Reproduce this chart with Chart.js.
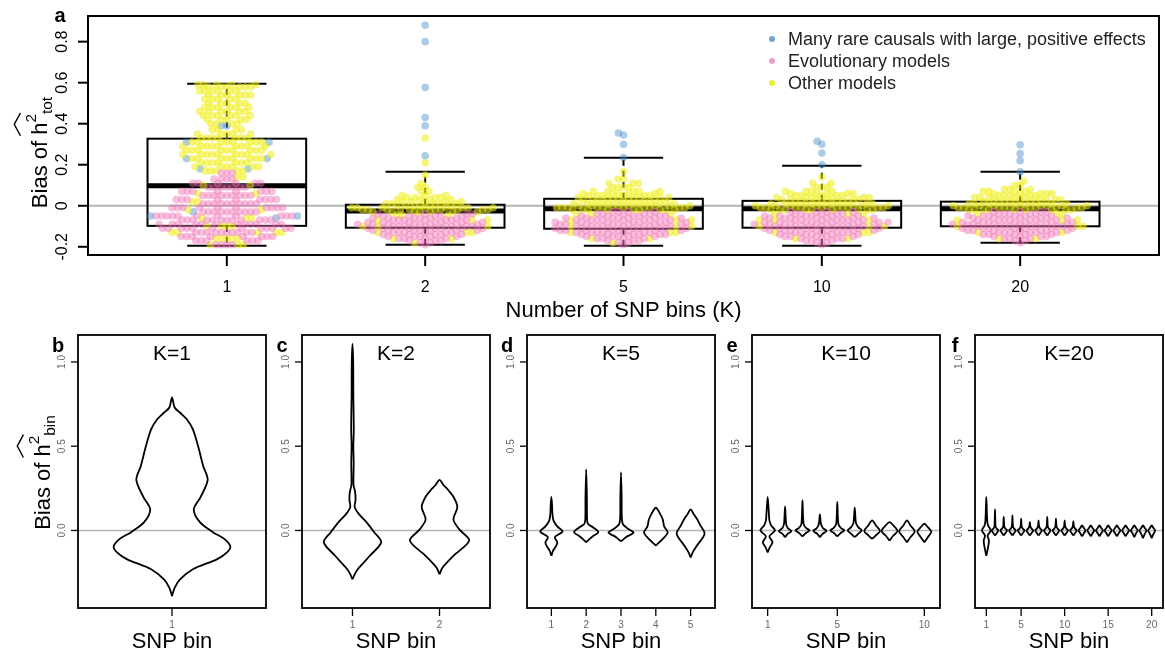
<!DOCTYPE html>
<html>
<head>
<meta charset="utf-8">
<title>Bias of heritability estimates by number of SNP bins</title>
<script src="https://cdn.jsdelivr.net/npm/chart.js@4.4.1/dist/chart.umd.min.js"></script>
<style>
    body { margin: 0; background: #fff; }
    #wrap { position: relative; width: 1165px; height: 656px; overflow: hidden; }
    canvas { position: absolute; }
</style>
</head>
<body>
<div id="wrap">
    <canvas id="chart-a" width="1165" height="330" style="left:0;top:0"></canvas>
    <canvas id="chart-b" width="270" height="336" style="left:0;top:320px"></canvas>
    <canvas id="chart-c" width="222" height="336" style="left:272px;top:320px"></canvas>
    <canvas id="chart-d" width="222" height="336" style="left:497px;top:320px"></canvas>
    <canvas id="chart-e" width="222" height="336" style="left:722px;top:320px"></canvas>
    <canvas id="chart-f" width="222" height="336" style="left:945px;top:320px"></canvas>
</div>

<script>
    const FONT = "'Liberation Sans', Arial, sans-serif";

    // ---- panel a: box plots + swarm of simulation results ----
    const binCounts = ['1', '2', '5', '10', '20'];
    const boxQ1 = [-0.098, -0.107, -0.112, -0.107, -0.100];
    const boxMedian = [0.098, -0.025, -0.015, -0.015, -0.015];
    const boxQ3 = [0.327, 0.005, 0.034, 0.024, 0.020];
    const whiskerLow = [-0.195, -0.190, -0.195, -0.195, -0.180];
    const whiskerHigh = [0.595, 0.166, 0.234, 0.195, 0.166];

    // [value, how many points at that value]
    const evoK1 = [[0.16, 3], [0.13, 4], [0.11, 6], [0.09, 7], [0.07, 8], [0.05, 9], [0.03, 9], [0.01, 10], [-0.01, 10], [-0.03, 10], [-0.05, 11], [-0.07, 12], [-0.09, 12], [-0.11, 12], [-0.13, 10], [-0.15, 8], [-0.17, 6], [-0.19, 4]];
    const otherK1 = [[0.59, 5], [0.58, 6], [0.56, 6], [0.54, 6], [0.52, 5], [0.50, 5], [0.48, 6], [0.46, 6], [0.44, 6], [0.42, 5], [0.40, 4], [0.37, 4], [0.35, 5], [0.33, 7], [0.31, 8], [0.29, 9], [0.27, 9], [0.25, 9], [0.23, 8], [0.21, 7], [0.19, 6], [0.17, 5], [0.14, 2], [0.10, 2], [0.06, 2], [0.02, 2], [-0.02, 2], [-0.06, 3], [-0.10, 4], [-0.13, 5], [-0.16, 5], [-0.19, 3]];
    const rareK1 = [[0.39, 2], [0.31, 2], [0.23, 2], [0.18, 2], [-0.03, 1], [-0.05, 2], [-0.06, 1]];

    const evoK2 = [[-0.04, 4], [-0.05, 5], [-0.06, 6], [-0.07, 7], [-0.08, 7], [-0.09, 8], [-0.10, 8], [-0.11, 7], [-0.12, 7], [-0.13, 6], [-0.14, 5], [-0.15, 5], [-0.16, 4], [-0.17, 3], [-0.18, 2], [-0.19, 1]];
    const otherK2 = [[0.33, 1], [0.21, 1], [0.15, 1], [0.11, 1], [0.09, 2], [0.07, 2], [0.05, 3], [0.04, 4], [0.03, 4], [0.02, 5], [0.01, 5], [0.0, 6], [-0.01, 8], [-0.02, 10], [-0.03, 7], [-0.045, 3], [-0.07, 3], [-0.10, 3], [-0.13, 3], [-0.16, 2], [-0.18, 1]];
    const rareK2 = [[0.88, 1], [0.80, 1], [0.577, 1], [0.43, 1], [0.39, 1], [0.244, 1]];

    const evoK5 = [[-0.03, 4], [-0.04, 5], [-0.05, 6], [-0.06, 7], [-0.07, 8], [-0.08, 8], [-0.09, 8], [-0.10, 8], [-0.11, 8], [-0.12, 8], [-0.13, 7], [-0.14, 6], [-0.15, 5], [-0.16, 4], [-0.17, 3], [-0.18, 2], [-0.19, 1]];
    const otherK5 = [[0.167, 1], [0.13, 2], [0.11, 3], [0.09, 4], [0.07, 5], [0.06, 5], [0.05, 6], [0.04, 6], [0.03, 6], [0.02, 6], [0.01, 7], [0.0, 8], [-0.01, 10], [-0.02, 9], [-0.04, 3], [-0.07, 3], [-0.10, 3], [-0.13, 3], [-0.16, 2], [-0.18, 1]];
    const rareK5 = [[0.355, 1], [0.345, 1], [0.30, 1], [0.235, 1]];

    const evoK10 = [[-0.03, 4], [-0.04, 5], [-0.05, 6], [-0.06, 7], [-0.07, 7], [-0.08, 8], [-0.09, 8], [-0.10, 8], [-0.11, 7], [-0.12, 7], [-0.13, 6], [-0.14, 5], [-0.15, 5], [-0.16, 4], [-0.17, 3], [-0.18, 2], [-0.19, 1]];
    const otherK10 = [[0.14, 1], [0.11, 2], [0.09, 3], [0.07, 4], [0.06, 5], [0.05, 5], [0.04, 6], [0.03, 6], [0.02, 6], [0.01, 7], [0.0, 8], [-0.01, 10], [-0.02, 9], [-0.04, 3], [-0.07, 3], [-0.10, 3], [-0.13, 3], [-0.16, 2]];
    const rareK10 = [[0.314, 1], [0.30, 1], [0.257, 1], [0.20, 1]];

    const evoK20 = [[-0.03, 4], [-0.04, 5], [-0.05, 6], [-0.06, 6], [-0.07, 7], [-0.08, 7], [-0.09, 8], [-0.10, 8], [-0.11, 7], [-0.12, 7], [-0.13, 6], [-0.14, 5], [-0.15, 4], [-0.16, 3], [-0.17, 2], [-0.18, 1]];
    const otherK20 = [[0.12, 1], [0.10, 2], [0.08, 3], [0.07, 4], [0.06, 5], [0.05, 5], [0.04, 5], [0.03, 6], [0.02, 6], [0.01, 7], [0.0, 8], [-0.01, 10], [-0.02, 9], [-0.04, 3], [-0.07, 3], [-0.10, 3], [-0.13, 2], [-0.16, 2]];
    const rareK20 = [[0.297, 1], [0.254, 1], [0.22, 1], [0.166, 1]];

    const groups = [
        { label: 'Evolutionary models', byK: [evoK1, evoK2, evoK5, evoK10, evoK20], color: 'rgba(240,110,180,0.45)', key: '#f39cc6' },
        { label: 'Other models', byK: [otherK1, otherK2, otherK5, otherK10, otherK20], color: 'rgba(238,238,20,0.55)', key: '#eeee30' },
        { label: 'Many rare causals with large, positive effects', byK: [rareK1, rareK2, rareK5, rareK10, rareK20], color: 'rgba(70,140,200,0.45)', key: '#6fa3d2' }
    ];
    const legendOrder = [2, 0, 1];

    // ---- panels b-f: violins of per-bin bias, profile = [value, half width in bin units] ----
    const violinK1 = [
        [[-0.39, 0], [-0.34, 0.015], [-0.29, 0.046], [-0.23, 0.12], [-0.17, 0.26], [-0.13, 0.316], [-0.095, 0.335], [-0.05, 0.3], [-0.01, 0.235], [0.05, 0.16], [0.125, 0.125], [0.2, 0.165], [0.3, 0.205], [0.38, 0.18], [0.5, 0.15], [0.6, 0.12], [0.66, 0.085], [0.70, 0.045], [0.73, 0.015], [0.79, 0]]
    ];
    const violinK2 = [
        [[-0.29, 0], [-0.26, 0.025], [-0.23, 0.06], [-0.19, 0.13], [-0.15, 0.2], [-0.07, 0.33], [-0.01, 0.25], [0.05, 0.16], [0.1, 0.07], [0.14, 0.025], [0.18, 0.035], [0.23, 0.03], [0.27, 0.012], [0.4, 0.014], [0.5, 0.01], [0.6, 0.015], [0.8, 0.01], [1.0, 0.008], [1.107, 0]],
        [[-0.26, 0], [-0.22, 0.035], [-0.15, 0.16], [-0.06, 0.34], [0.005, 0.23], [0.065, 0.16], [0.14, 0.205], [0.2, 0.16], [0.24, 0.1], [0.27, 0.045], [0.3, 0]]
    ];
    const violinK5 = [
        [[-0.15, 0], [-0.12, 0.05], [-0.09, 0.14], [-0.07, 0.17], [-0.04, 0.1], [-0.006, 0.32], [0.024, 0.17], [0.06, 0.06], [0.1, 0.03], [0.15, 0.02], [0.2, 0]],
        [[-0.07, 0], [-0.05, 0.1], [-0.03, 0.22], [-0.01, 0.35], [0.018, 0.2], [0.04, 0.05], [0.07, 0.025], [0.2, 0.02], [0.363, 0]],
        [[-0.065, 0], [-0.04, 0.14], [-0.012, 0.36], [0.01, 0.2], [0.035, 0.06], [0.07, 0.025], [0.2, 0.018], [0.345, 0]],
        [[-0.09, 0], [-0.07, 0.1], [-0.05, 0.2], [-0.012, 0.34], [0.024, 0.24], [0.065, 0.2], [0.1, 0.12], [0.135, 0]],
        [[-0.16, 0], [-0.13, 0.06], [-0.09, 0.18], [-0.02, 0.4], [0.03, 0.28], [0.07, 0.18], [0.1, 0.08], [0.125, 0]]
    ];
    const violinK10 = [
        [[-0.13, 0], [-0.1, 0.12], [-0.07, 0.28], [-0.035, 0.1], [0, 0.42], [0.03, 0.2], [0.06, 0.1], [0.1, 0.07], [0.2, 0]],
        [[-0.04, 0], [-0.02, 0.15], [-0.005, 0.36], [0.015, 0.15], [0.04, 0.06], [0.143, 0]],
        [[-0.035, 0], [-0.015, 0.2], [0, 0.4], [0.015, 0.2], [0.04, 0.06], [0.18, 0]],
        [[-0.04, 0], [-0.02, 0.15], [-0.003, 0.38], [0.015, 0.17], [0.04, 0.06], [0.095, 0]],
        [[-0.035, 0], [-0.015, 0.2], [0, 0.4], [0.015, 0.2], [0.04, 0.06], [0.17, 0]],
        [[-0.04, 0], [-0.02, 0.2], [0, 0.4], [0.02, 0.2], [0.045, 0.07], [0.135, 0]],
        [[-0.05, 0], [-0.03, 0.2], [-0.003, 0.45], [0.03, 0.22], [0.06, 0]],
        [[-0.06, 0], [-0.03, 0.22], [-0.003, 0.46], [0.03, 0.22], [0.05, 0]],
        [[-0.07, 0], [-0.04, 0.2], [-0.005, 0.45], [0.03, 0.2], [0.06, 0]],
        [[-0.07, 0], [-0.04, 0.2], [-0.008, 0.4], [0.02, 0.2], [0.04, 0]]
    ];
    const violinK20 = [
        [[-0.15, 0], [-0.1, 0.2], [-0.06, 0.3], [-0.03, 0.15], [0, 0.5], [0.03, 0.2], [0.06, 0.1], [0.2, 0]],
        [[-0.03, 0], [-0.015, 0.2], [0, 0.38], [0.012, 0.18], [0.025, 0.06], [0.125, 0]],
        [[-0.03, 0], [-0.015, 0.2], [0, 0.38], [0.012, 0.18], [0.025, 0.06], [0.08, 0]],
        [[-0.03, 0], [-0.015, 0.2], [0, 0.38], [0.012, 0.18], [0.025, 0.06], [0.09, 0]],
        [[-0.03, 0], [-0.015, 0.2], [0, 0.38], [0.012, 0.18], [0.025, 0.06], [0.07, 0]],
        [[-0.03, 0], [-0.015, 0.2], [0, 0.38], [0.012, 0.18], [0.025, 0.06], [0.05, 0]],
        [[-0.03, 0], [-0.015, 0.2], [0, 0.38], [0.012, 0.18], [0.025, 0.06], [0.06, 0]],
        [[-0.03, 0], [-0.015, 0.2], [0, 0.38], [0.012, 0.18], [0.025, 0.06], [0.08, 0]],
        [[-0.03, 0], [-0.015, 0.2], [0, 0.38], [0.012, 0.18], [0.025, 0.06], [0.07, 0]],
        [[-0.03, 0], [-0.015, 0.2], [0, 0.38], [0.012, 0.18], [0.025, 0.06], [0.06, 0]],
        [[-0.03, 0], [-0.015, 0.2], [0, 0.38], [0.012, 0.18], [0.025, 0.06], [0.055, 0]],
        [[-0.035, 0], [-0.015, 0.22], [0, 0.4], [0.015, 0.2], [0.03, 0]],
        [[-0.035, 0], [-0.015, 0.22], [0, 0.4], [0.015, 0.2], [0.03, 0]],
        [[-0.035, 0], [-0.015, 0.22], [0, 0.4], [0.015, 0.2], [0.03, 0]],
        [[-0.035, 0], [-0.015, 0.22], [0, 0.4], [0.015, 0.2], [0.03, 0]],
        [[-0.035, 0], [-0.015, 0.22], [0, 0.4], [0.015, 0.2], [0.03, 0]],
        [[-0.035, 0], [-0.015, 0.22], [0, 0.4], [0.015, 0.2], [0.03, 0]],
        [[-0.04, 0], [-0.015, 0.22], [0, 0.4], [0.015, 0.2], [0.03, 0]],
        [[-0.045, 0], [-0.018, 0.22], [0, 0.4], [0.015, 0.2], [0.03, 0]],
        [[-0.045, 0], [-0.018, 0.22], [0, 0.4], [0.015, 0.2], [0.03, 0]]
    ];
    const violinTicks = [[1], [1, 2], [1, 2, 3, 4, 5], [1, 5, 10], [1, 5, 10, 15, 20]];
    const violinYTicks = [0, 0.5, 1.0];
    const topYTicks = [-0.2, 0, 0.2, 0.4, 0.6, 0.8];

    // draw "Bias of h^2_sub" with a hat, rotated along the y axis
    function drawHatTitle(ctx, cx, cy, sub, size) {
        const small = size * 0.7;
        ctx.save();
        ctx.translate(cx, cy);
        ctx.rotate(-Math.PI / 2);
        ctx.fillStyle = '#000';
        ctx.strokeStyle = '#000';
        ctx.textAlign = 'left';
        ctx.textBaseline = 'alphabetic';
        ctx.font = `${size}px ${FONT}`;
        const w1 = ctx.measureText('Bias of ').width;
        const wh = ctx.measureText('h').width;
        ctx.font = `${small}px ${FONT}`;
        const w2 = ctx.measureText('2').width;
        const ws = ctx.measureText(sub).width;
        const x0 = -(w1 + wh + w2 + ws) / 2;
        const base = size * 0.33;
        ctx.font = `${size}px ${FONT}`;
        ctx.fillText('Bias of ', x0, base);
        ctx.fillText('h', x0 + w1, base);
        ctx.font = `${small}px ${FONT}`;
        ctx.fillText('2', x0 + w1 + wh, base - size * 0.5);
        ctx.fillText(sub, x0 + w1 + wh + w2, base + size * 0.2);
        const hx0 = x0 + w1 - 1, hx1 = x0 + w1 + wh + w2 + 1;
        ctx.lineWidth = 1.4;
        ctx.beginPath();
        ctx.moveTo(hx0, base - size * 1.22);
        ctx.lineTo((hx0 + hx1) / 2, base - size * 1.5);
        ctx.lineTo(hx1, base - size * 1.22);
        ctx.stroke();
        ctx.restore();
    }

    function rotatedText(ctx, text, x, y) {
        ctx.save();
        ctx.translate(x, y);
        ctx.rotate(-Math.PI / 2);
        ctx.textAlign = 'center';
        ctx.textBaseline = 'alphabetic';
        ctx.fillText(text, 0, 0);
        ctx.restore();
    }

    const panelA = {
        id: 'panelA',
        beforeDatasetsDraw(chart) {
            const { ctx, chartArea: a, scales: { x, y } } = chart;
            ctx.save();
            const y0 = y.getPixelForValue(0);
            ctx.strokeStyle = '#b5b5b5';
            ctx.lineWidth = 2;
            ctx.beginPath();
            ctx.moveTo(a.left, y0);
            ctx.lineTo(a.right, y0);
            ctx.stroke();

            ctx.strokeStyle = '#000';
            binCounts.forEach((_, i) => {
                const xc = x.getPixelForValue(i);
                const bl = x.getPixelForValue(i - 0.4), br = x.getPixelForValue(i + 0.4);
                const cl = x.getPixelForValue(i - 0.2), cr = x.getPixelForValue(i + 0.2);
                const yq1 = y.getPixelForValue(boxQ1[i]), yq3 = y.getPixelForValue(boxQ3[i]);
                const ymed = y.getPixelForValue(boxMedian[i]);
                const ylo = y.getPixelForValue(whiskerLow[i]), yhi = y.getPixelForValue(whiskerHigh[i]);
                ctx.lineWidth = 2;
                ctx.setLineDash([6, 5]);
                ctx.beginPath();
                ctx.moveTo(xc, yq3); ctx.lineTo(xc, yhi);
                ctx.moveTo(xc, yq1); ctx.lineTo(xc, ylo);
                ctx.stroke();
                ctx.setLineDash([]);
                ctx.beginPath();
                ctx.moveTo(cl, yhi); ctx.lineTo(cr, yhi);
                ctx.moveTo(cl, ylo); ctx.lineTo(cr, ylo);
                ctx.stroke();
                ctx.strokeRect(bl, yq3, br - bl, yq1 - yq3);
                ctx.lineWidth = 5;
                ctx.beginPath();
                ctx.moveTo(bl, ymed); ctx.lineTo(br, ymed);
                ctx.stroke();
            });
            ctx.restore();
        },
        afterDraw(chart) {
            const { ctx, chartArea: a, scales: { x, y } } = chart;
            ctx.save();
            ctx.strokeStyle = '#000';
            ctx.fillStyle = '#000';
            ctx.lineWidth = 2;
            ctx.strokeRect(a.left, a.top, a.right - a.left, a.bottom - a.top);

            // y axis
            ctx.font = `16px ${FONT}`;
            topYTicks.forEach(v => {
                const py = y.getPixelForValue(v);
                ctx.beginPath(); ctx.moveTo(a.left - 10, py); ctx.lineTo(a.left, py); ctx.stroke();
                rotatedText(ctx, v === 0 ? '0' : String(v), a.left - 21, py);
            });
            // x axis
            ctx.textAlign = 'center';
            binCounts.forEach((lab, i) => {
                const px = x.getPixelForValue(i);
                ctx.beginPath(); ctx.moveTo(px, a.bottom); ctx.lineTo(px, a.bottom + 11); ctx.stroke();
                ctx.fillText(lab, px, a.bottom + 37);
            });
            ctx.font = `22px ${FONT}`;
            ctx.fillText('Number of SNP bins (K)', (a.left + a.right) / 2, a.bottom + 62);
            drawHatTitle(ctx, 40, (a.top + a.bottom) / 2 + 17, 'tot', 22);

            ctx.font = `bold 20px ${FONT}`;
            ctx.fillText('a', a.left - 28, a.top + 6);

            // legend
            ctx.font = `18px ${FONT}`;
            ctx.textAlign = 'left';
            legendOrder.forEach((g, k) => {
                const ly = a.top + 23 + k * 22;
                ctx.fillStyle = groups[g].key;
                ctx.beginPath(); ctx.arc(a.right - 387, ly, 3, 0, Math.PI * 2); ctx.fill();
                ctx.fillStyle = '#222';
                ctx.fillText(groups[g].label, a.right - 371, ly + 6);
            });
            ctx.restore();
        }
    };

    const chartA = new Chart(document.getElementById('chart-a'), {
        type: 'scatter',
        data: {
            datasets: groups.map(g => ({
                label: g.label,
                data: [],
                backgroundColor: g.color,
                borderWidth: 0,
                pointRadius: 3.8,
                pointHoverRadius: 3.8
            }))
        },
        options: {
            responsive: false,
            animation: false,
            events: [],
            layout: { padding: { left: 88, top: 16, right: 6, bottom: 75 } },
            scales: {
                x: { type: 'linear', min: -0.7, max: 4.7, display: false },
                y: { type: 'linear', min: -0.24, max: 0.925, display: false }
            },
            plugins: { legend: { display: false }, tooltip: { enabled: false } }
        },
        plugins: [panelA]
    });

    // beeswarm layout (pixel space), then back to data units
    function layoutSwarm(chart) {
        const sx = chart.scales.x, sy = chart.scales.y;
        const pxX = sx.getPixelForValue(1) - sx.getPixelForValue(0);
        const pxY = sy.getPixelForValue(0) - sy.getPixelForValue(1);
        const d = 5.5;
        const out = groups.map(() => []);
        binCounts.forEach((_, i) => {
            const pts = [];
            groups.forEach((g, gi) => {
                g.byK[i].forEach(([v, n]) => {
                    for (let k = 0; k < n; k++) pts.push({ g: gi, v: v, py: v * pxY, px: 0 });
                });
            });
            pts.sort((p, q) => p.py - q.py);
            const placed = [];
            pts.forEach(p => {
                const near = placed.filter(q => Math.abs(q.py - p.py) < d);
                const cands = [0];
                near.forEach(q => {
                    const dx = Math.sqrt(d * d - (q.py - p.py) ** 2);
                    cands.push(q.px + dx, q.px - dx);
                });
                cands.sort((s, t) => Math.abs(s) - Math.abs(t) || s - t);
                for (const c of cands) {
                    if (near.every(q => (c - q.px) ** 2 + (p.py - q.py) ** 2 >= d * d - 0.01)) {
                        p.px = c;
                        break;
                    }
                }
                placed.push(p);
            });
            pts.forEach(p => out[p.g].push({ x: i + p.px / pxX, y: p.v }));
        });
        out.forEach((arr, gi) => { chart.data.datasets[gi].data = arr; });
        chart.update('none');
    }
    layoutSwarm(chartA);

    // ---- violin panels ----
    const violinDecor = {
        id: 'violinDecor',
        beforeDatasetsDraw(chart) {
            const { ctx, chartArea: a, scales: { y } } = chart;
            const y0 = y.getPixelForValue(0);
            ctx.save();
            ctx.strokeStyle = '#b5b5b5';
            ctx.lineWidth = 1.5;
            ctx.beginPath(); ctx.moveTo(a.left, y0); ctx.lineTo(a.right, y0); ctx.stroke();
            ctx.restore();
        },
        afterDraw(chart, args, opts) {
            const { ctx, chartArea: a, scales: { x, y } } = chart;
            ctx.save();
            ctx.strokeStyle = '#000';
            ctx.lineWidth = 1.8;
            ctx.strokeRect(a.left, a.top, a.right - a.left, a.bottom - a.top);
            ctx.lineWidth = 1.3;
            ctx.fillStyle = '#666';
            ctx.font = `10px ${FONT}`;
            violinYTicks.forEach(v => {
                const py = y.getPixelForValue(v);
                ctx.beginPath(); ctx.moveTo(a.left - 7, py); ctx.lineTo(a.left, py); ctx.stroke();
                rotatedText(ctx, v.toFixed(1), a.left - 13, py);
            });
            ctx.textAlign = 'center';
            opts.ticks.forEach(t => {
                const px = x.getPixelForValue(t);
                ctx.beginPath(); ctx.moveTo(px, a.bottom); ctx.lineTo(px, a.bottom + 8); ctx.stroke();
                ctx.fillText(String(t), px, a.bottom + 20);
            });
            ctx.fillStyle = '#000';
            ctx.font = `22px ${FONT}`;
            ctx.fillText('SNP bin', (a.left + a.right) / 2, a.bottom + 40);
            ctx.font = `21px ${FONT}`;
            ctx.fillText('K=' + opts.k, (a.left + a.right) / 2, a.top + 25);
            ctx.font = `bold 20px ${FONT}`;
            ctx.fillText(opts.letter, a.left - 20, a.top + 17);
            if (opts.yTitle) drawHatTitle(ctx, 43, (a.top + a.bottom) / 2 + 1, 'bin', 22);
            ctx.restore();
        }
    };

    function violinOutline(profile, bin) {
        const right = profile.map(([v, w]) => ({ x: bin + w, y: v }));
        const left = profile.slice(0, -1).reverse().map(([v, w]) => ({ x: bin - w, y: v }));
        return right.concat(left);
    }

    function violinChart(id, letter, k, profiles, ticks, leftPad, yTitle) {
        const n = profiles.length;
        return new Chart(document.getElementById(id), {
            type: 'scatter',
            data: {
                datasets: profiles.map((p, i) => ({
                    data: violinOutline(p, i + 1),
                    showLine: true,
                    borderColor: '#000',
                    borderWidth: 1.8,
                    pointRadius: 0,
                    tension: 0.3,
                    fill: false
                }))
            },
            options: {
                responsive: false,
                animation: false,
                events: [],
                layout: { padding: { left: leftPad, top: 15, right: 4, bottom: 48 } },
                scales: {
                    x: { type: 'linear', min: 0.5 - 0.04 * n, max: n + 0.5 + 0.04 * n, display: false },
                    y: { type: 'linear', min: -0.46, max: 1.16, display: false }
                },
                plugins: {
                    legend: { display: false },
                    tooltip: { enabled: false },
                    violinDecor: { letter: letter, k: k, ticks: ticks, yTitle: yTitle }
                }
            },
            plugins: [violinDecor]
        });
    }

    violinChart('chart-b', 'b', 1, violinK1, violinTicks[0], 78, true);
    violinChart('chart-c', 'c', 2, violinK2, violinTicks[1], 30, false);
    violinChart('chart-d', 'd', 5, violinK5, violinTicks[2], 30, false);
    violinChart('chart-e', 'e', 10, violinK10, violinTicks[3], 30, false);
    violinChart('chart-f', 'f', 20, violinK20, violinTicks[4], 30, false);
</script>
</body>
</html>
